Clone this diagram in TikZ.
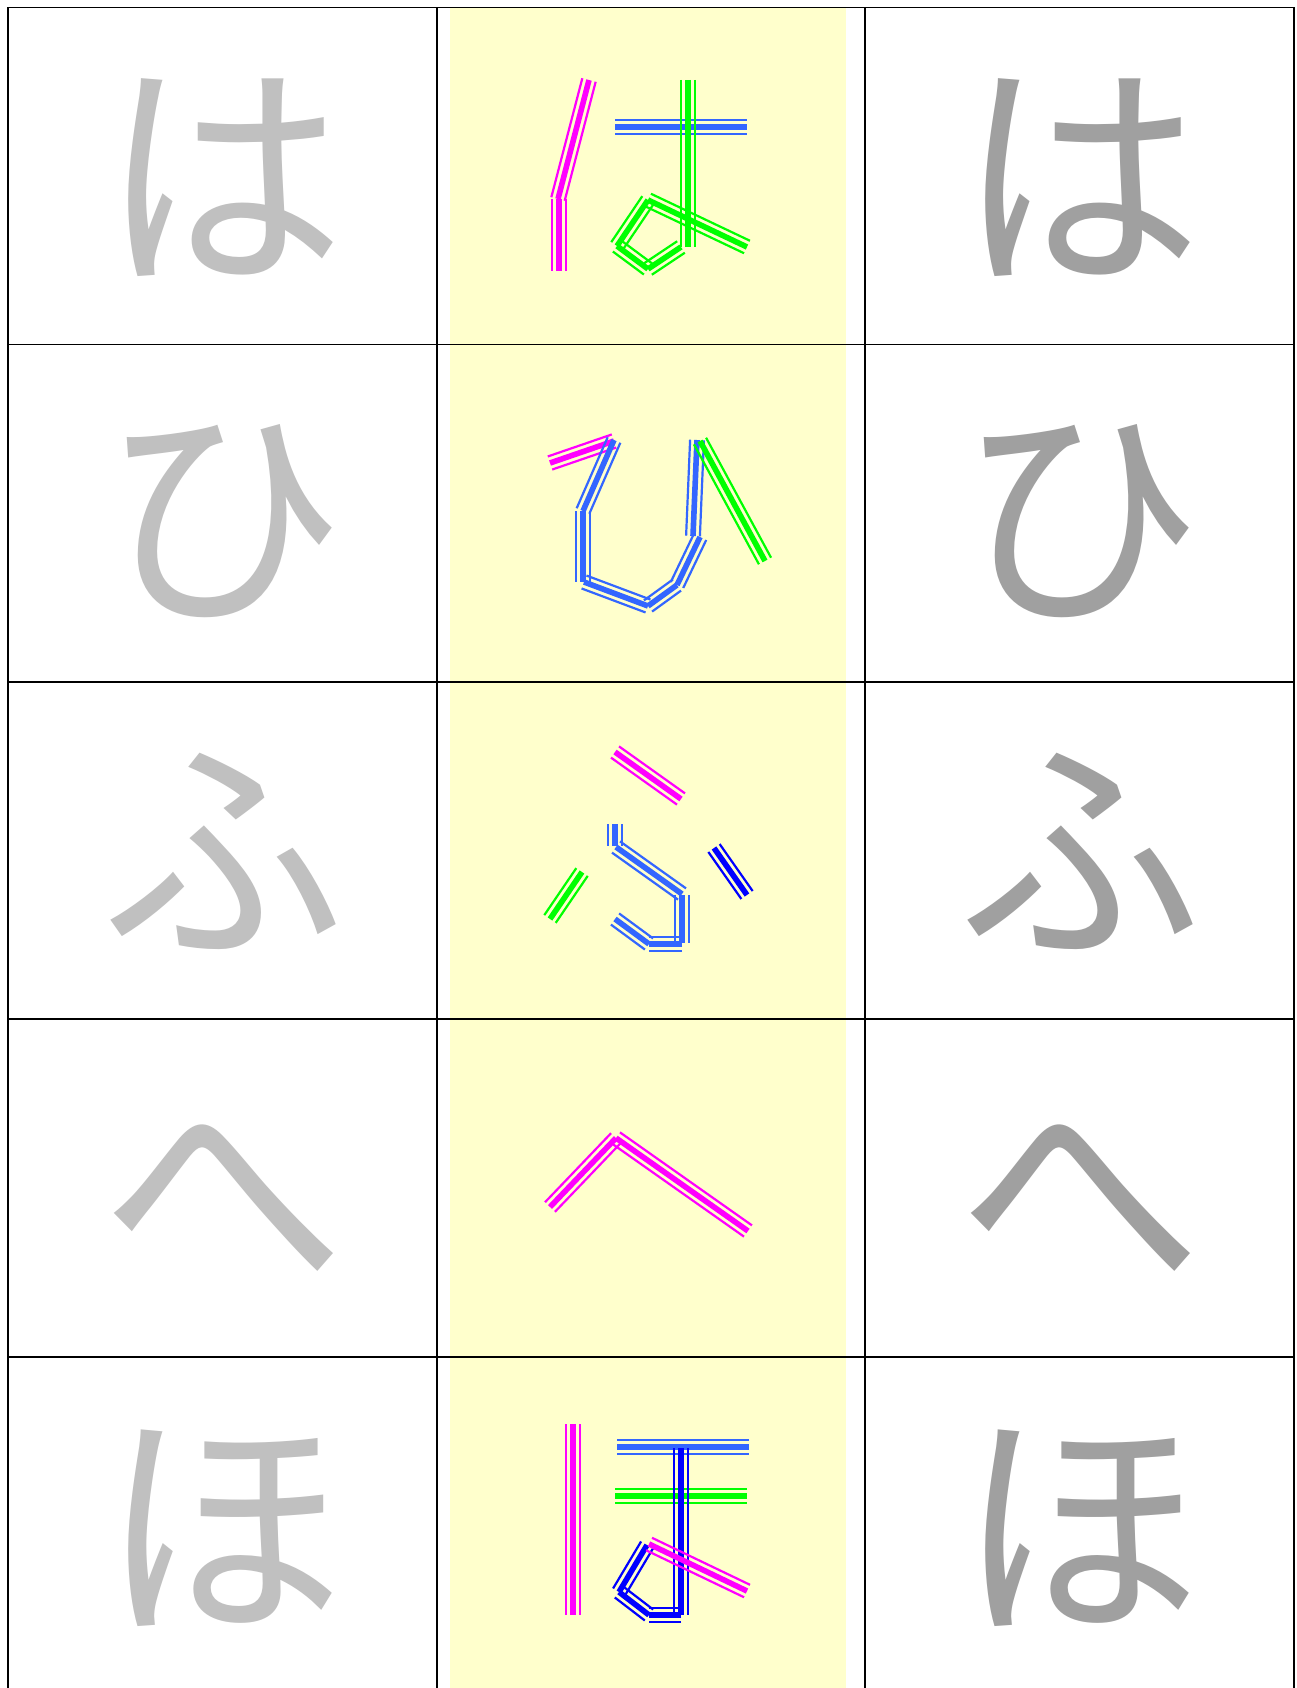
\documentclass[tikz,border=0pt]{standalone}
\usepackage{fontspec}
\newfontfamily\jpfont{Noto Sans CJK JP}
\usetikzlibrary{calc}
\definecolor{lightg}{HTML}{C0C0C0}
\definecolor{darkg}{HTML}{A0A0A0}
\definecolor{paleyellow}{HTML}{FFFFCC}
\definecolor{smag}{HTML}{FF00FF}
\definecolor{sblue}{HTML}{3366FF}
\definecolor{sgreen}{HTML}{00FF00}
\definecolor{sdblue}{HTML}{0000FF}
\tikzset{
  gridline/.style={black, line width=1.7pt},
  kana/.style={font=\jpfont\fontsize{245}{245}\selectfont, inner sep=0pt, anchor=base},
  midln/.style={line width=5.6pt, line cap=butt},
  sideln/.style={line width=2.2pt, line cap=butt},
}
\newcommand\sseg[3]{%
  \draw[#1, midln] #2 -- #3;
  \draw[#1, sideln] ($#2!6.9pt!90:#3$) -- ($#3!6.9pt!-90:#2$);
  \draw[#1, sideln] ($#2!6.9pt!-90:#3$) -- ($#3!6.9pt!90:#2$);
}
\begin{document}
\begin{tikzpicture}[x=1pt, y=-1pt]
\useasboundingbox (0,0) rectangle (1297,1688);
\clip (0,0) rectangle (1297,1688);
\fill[white] (0,0) rectangle (1297,1688);
% yellow column
\fill[paleyellow] (449.7,8) rectangle (846,1700);
% grid
\foreach \x in {8,437,865,1294} \draw[gridline] (\x,7.5) -- (\x,1700);
\foreach \y in {7.5,344.4,682,1019.3,1357.2} \draw[gridline] (8,\y) -- (1294,\y);
% left and right columns
\foreach \ch/\cy [count=\i] in {は/176,ひ/513,ふ/850.5,へ/1188,ほ/1525.5}{
  \node[kana, text=lightg] (left\i) at (222.5,\cy+92) {\ch};
  \node[kana, text=darkg] (right\i) at (1079.5,\cy+92) {\ch};
}
% ---- は
\sseg{smag}{(589,80)}{(558,199)}
\sseg{smag}{(559,199)}{(559,271)}
\sseg{sblue}{(615,127)}{(747,127)}
\sseg{sgreen}{(688,80)}{(688,247)}
\sseg{sgreen}{(681,247)}{(648,269)}
\sseg{sgreen}{(648,269)}{(617,246)}
\sseg{sgreen}{(617,246)}{(648,200)}
\sseg{sgreen}{(648,200)}{(747,247)}
% ---- ひ
\sseg{smag}{(550,463)}{(614,441)}
\sseg{sblue}{(614,440)}{(583,511)}
\sseg{sblue}{(583,511)}{(583,582)}
\sseg{sblue}{(584,582)}{(648,606)}
\sseg{sblue}{(648,606)}{(677,585)}
\sseg{sblue}{(677,585)}{(700,537)}
\sseg{sblue}{(693,536)}{(697,440)}
\sseg{sgreen}{(700,441)}{(765,561)}
% ---- ふ
\sseg{smag}{(615,752)}{(681,799)}
\sseg{sblue}{(615,824)}{(615,846)}
\sseg{sblue}{(616,847)}{(682,894)}
\sseg{sblue}{(682,895)}{(682,943)}
\sseg{sblue}{(682,944)}{(649,944)}
\sseg{sblue}{(649,944)}{(615,919)}
\sseg{sdblue}{(714,848)}{(747,895)}
\sseg{sgreen}{(582,872)}{(550,919)}
% ---- へ
\sseg{smag}{(550,1207)}{(616,1138)}
\sseg{smag}{(616,1138)}{(748,1231)}
% ---- ほ
\sseg{smag}{(573,1424)}{(573,1615)}
\sseg{sblue}{(617,1447)}{(749,1447)}
\sseg{sgreen}{(615,1496)}{(747,1496)}
\sseg{sdblue}{(681,1448)}{(681,1615)}
\sseg{sdblue}{(681,1615)}{(649,1615)}
\sseg{sdblue}{(649,1615)}{(619,1592)}
\sseg{sdblue}{(619,1592)}{(647,1545)}
\sseg{smag}{(649,1544)}{(747,1591)}
\end{tikzpicture}
\end{document}
